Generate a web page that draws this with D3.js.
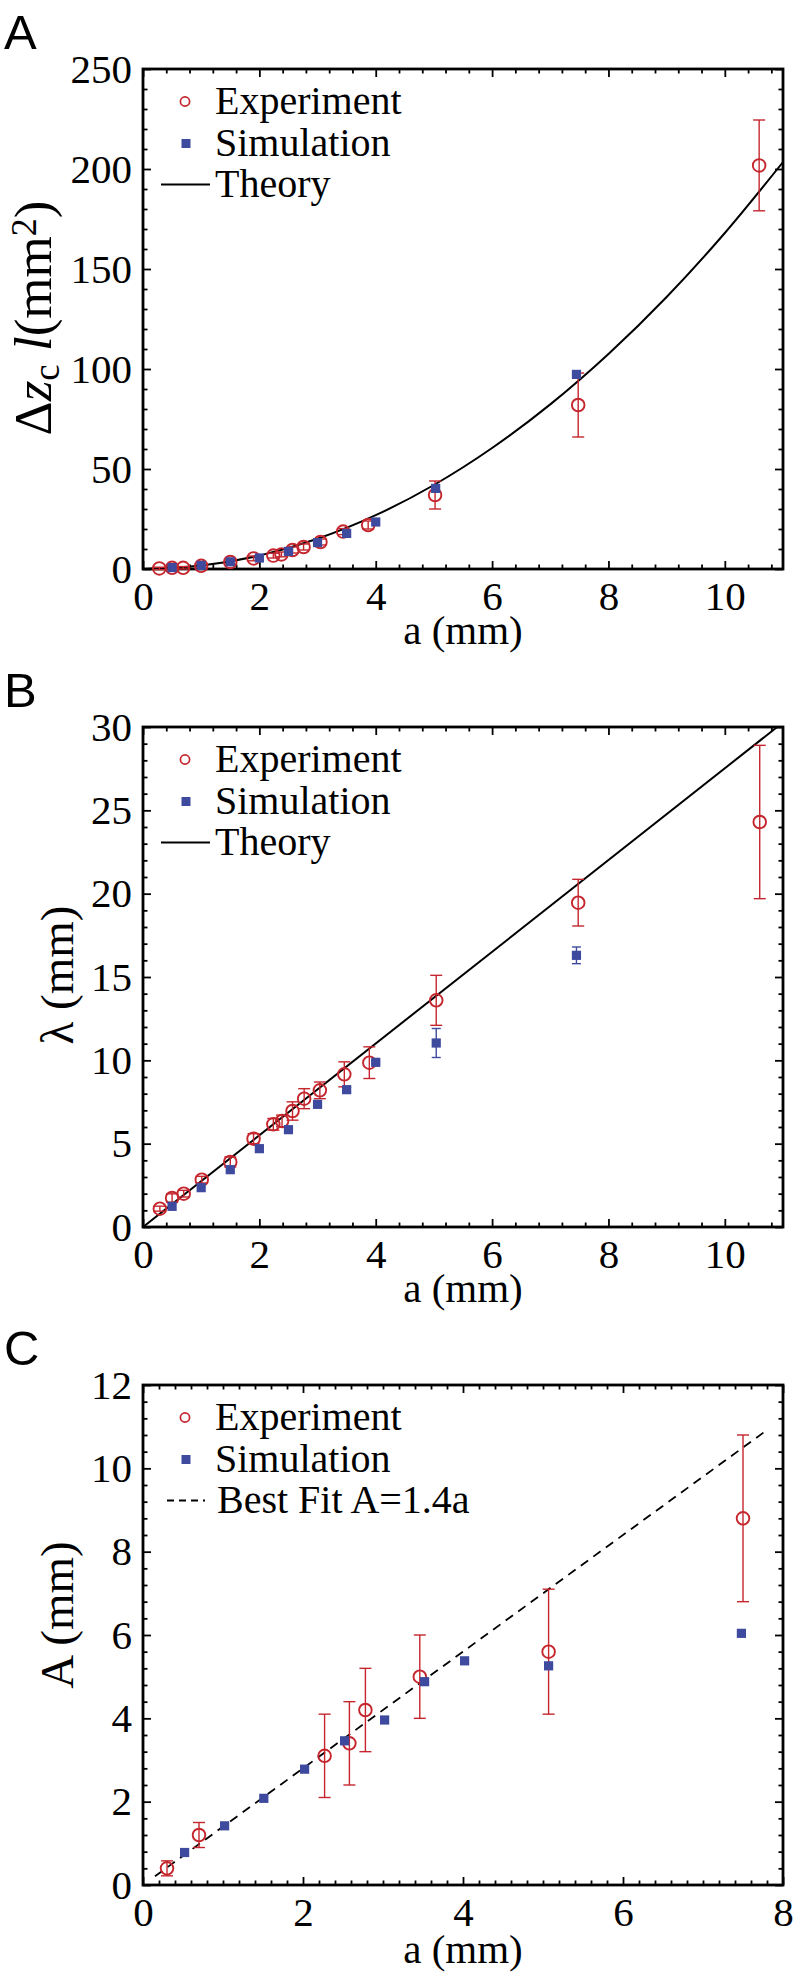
<!DOCTYPE html>
<html><head><meta charset="utf-8">
<script src="https://cdn.jsdelivr.net/npm/d3@7"></script>
<style>body{margin:0;background:#fff}svg{display:block}</style>
</head><body>
<script>
// ---------- Panel A : Δz_c l (mm^2) vs a (mm) ----------  [a, value, error]
const expA = [[0.28,0.3,0.6],[0.5,0.6,0.6],[0.69,0.6,0.6],[1.0,1.6,0.8],[1.5,3.5,1],[1.9,5.3,1.2],[2.24,6.7,1.2],[2.38,7.3,1.2],[2.57,9.5,1.5],[2.76,11.0,1.5],[3.05,13.5,1.5],[3.44,18.7,1.5],[3.87,22.0,2],[5.02,37.0,7],[7.48,82.0,16],[10.59,201.8,22.7]];
const simA = [[0.5,0.7,0],[1.0,1.8,0],[1.5,3.6,0],[2.0,5.5,0],[2.5,8.8,0],[3.0,13.2,0],[3.5,17.8,0],[4.0,23.5,0],[5.03,40.3,0],[7.45,97.3,0]];
const theoryA = [[0,0],[1,1.7],[2,6.7],[3,15.1],[4,26.9],[5,42],[6,60.5],[7,82.3],[8,107.5],[9,136],[10,168],[11,203.5]];
// ---------- Panel B : λ (mm) vs a (mm) ----------
const expB = [[0.29,1.1,0.15],[0.5,1.74,0.25],[0.7,2.0,0.2],[1.01,2.84,0.2],[1.5,3.9,0.3],[1.9,5.3,0.3],[2.24,6.16,0.35],[2.39,6.36,0.35],[2.57,6.96,0.55],[2.77,7.7,0.6],[3.04,8.2,0.5],[3.46,9.16,0.75],[3.89,9.86,0.95],[5.04,13.6,1.5],[7.48,19.46,1.4],[10.6,24.3,4.6]];
const simB = [[0.5,1.24,0],[1.0,2.36,0],[1.5,3.44,0],[2.0,4.7,0],[2.5,5.84,0],[3.0,7.36,0.1],[3.5,8.24,0.15],[4.0,9.88,0.1],[5.04,11.04,0.87],[7.45,16.3,0.5]];
const theoryB = [[0,0],[10.9,30]];
// ---------- Panel C : A (mm) vs a (mm) ----------
const expC = [[0.3,0.4,0.18],[0.7,1.2,0.3],[2.27,3.1,1.0],[2.58,3.4,1.0],[2.78,4.2,1.0],[3.46,5.0,1.0],[5.07,5.6,1.5],[7.5,8.8,2.0]];
const simC = [[0.52,0.78,0],[1.02,1.42,0],[1.51,2.08,0],[2.02,2.78,0],[2.52,3.46,0],[3.02,3.96,0],[3.52,4.88,0],[4.02,5.38,0],[5.07,5.26,0],[7.48,6.04,0]];
const fitC = [[0.15,0.21],[7.8,10.92]];
// ---------- tick labels ----------
const xTicksAB = [0,2,4,6,8,10];
const yTicksA = [0,50,100,150,200,250];
const yTicksB = [0,5,10,15,20,25,30];
const xTicksC = [0,2,4,6,8];
const yTicksC = [0,2,4,6,8,10,12];
const legendLabels = ["Experiment","Simulation"];
const lineLabelAB = "Theory";
const lineLabelC = "Best Fit A=1.4a";

const RED = "#c5262e", BLUE = "#3e4a9e";
const W = 798, H = 1976, LEFT = 143, RIGHT = 783;
const SERIF = "'Liberation Serif','Times New Roman',serif";
const SANS = "'Liberation Sans',Arial,sans-serif";

const svg = d3.select("body").append("svg").attr("width", W).attr("height", H)
  .style("background", "#fff");

const panels = [
  {id:"A", top:69, bottom:569, xd:[0,11], yd:[0,250], xt:xTicksAB, yt:yTicksA, xm:0.4, ym:10,
   exp:expA, sim:simA, line:theoryA, dashed:false, lineLabel:lineLabelAB, curve:d3.curveMonotoneX,
   xlabBase:644, ylabX:51, ylabY:318, ylabFs:53},
  {id:"B", top:727, bottom:1227, xd:[0,11], yd:[0,30], xt:xTicksAB, yt:yTicksB, xm:0.4, ym:1,
   exp:expB, sim:simB, line:theoryB, dashed:false, lineLabel:lineLabelAB, curve:d3.curveLinear,
   xlabBase:1302, ylabX:73, ylabY:975, ylabFs:47},
  {id:"C", top:1385, bottom:1885, xd:[0,8], yd:[0,12], xt:xTicksC, yt:yTicksC, xm:0.2, ym:0.4,
   exp:expC, sim:simC, line:fitC, dashed:true, lineLabel:lineLabelC, curve:d3.curveLinear,
   xlabBase:1963, ylabX:73, ylabY:1615, ylabFs:47}
];

function minorVals(dom, step, majors) {
  const out = [];
  const n = Math.round((dom[1]-dom[0])/step);
  for (let i=0;i<=n;i++){
    const v = +(dom[0]+i*step).toFixed(6);
    if (v<=dom[1]+1e-9 && !majors.some(m=>Math.abs(m-v)<1e-6)) out.push(v);
  }
  return out;
}

function styleAxis(g, fs) {
  g.select(".domain").remove();
  g.selectAll(".tick line").attr("stroke","#000").attr("stroke-width",1.8);
  g.selectAll(".tick text").attr("fill","#000").style("font-family",SERIF).style("font-size",fs+"px");
  g.attr("font-family",null).attr("font-size",null);
}

panels.forEach(p => {
  const x = d3.scaleLinear().domain(p.xd).range([LEFT, RIGHT]);
  const y = d3.scaleLinear().domain(p.yd).range([p.bottom, p.top]);
  const g = svg.append("g");

  const cid = "clip"+p.id;
  svg.append("clipPath").attr("id",cid).append("rect")
    .attr("x",LEFT).attr("y",p.top).attr("width",RIGHT-LEFT).attr("height",p.bottom-p.top);

  const xMin = minorVals(p.xd, p.xm, p.xt);
  const yMin = minorVals(p.yd, p.ym, p.yt);
  const MAJ = -8, MIN = -4.5, FS = 41;

  const gb = g.append("g").attr("transform",`translate(0,${p.bottom})`)
    .call(d3.axisBottom(x).tickValues(p.xt).tickSize(MAJ).tickPadding(12).tickFormat(d3.format("d")));
  styleAxis(gb, FS);
  styleAxis(g.append("g").attr("transform",`translate(0,${p.bottom})`)
    .call(d3.axisBottom(x).tickValues(xMin).tickSize(MIN).tickFormat("")), FS);
  styleAxis(g.append("g").attr("transform",`translate(0,${p.top})`)
    .call(d3.axisTop(x).tickValues(p.xt).tickSize(MAJ).tickFormat("")), FS);
  styleAxis(g.append("g").attr("transform",`translate(0,${p.top})`)
    .call(d3.axisTop(x).tickValues(xMin).tickSize(MIN).tickFormat("")), FS);
  const gl = g.append("g").attr("transform",`translate(${LEFT},0)`)
    .call(d3.axisLeft(y).tickValues(p.yt).tickSize(MAJ).tickPadding(11).tickFormat(d3.format("d")));
  styleAxis(gl, FS);
  styleAxis(g.append("g").attr("transform",`translate(${LEFT},0)`)
    .call(d3.axisLeft(y).tickValues(yMin).tickSize(MIN).tickFormat("")), FS);
  styleAxis(g.append("g").attr("transform",`translate(${RIGHT},0)`)
    .call(d3.axisRight(y).tickValues(p.yt).tickSize(MAJ).tickFormat("")), FS);
  styleAxis(g.append("g").attr("transform",`translate(${RIGHT},0)`)
    .call(d3.axisRight(y).tickValues(yMin).tickSize(MIN).tickFormat("")), FS);

  g.append("rect").attr("x",LEFT).attr("y",p.top).attr("width",RIGHT-LEFT).attr("height",p.bottom-p.top)
    .attr("fill","none").attr("stroke","#000").attr("stroke-width",2.8);

  g.append("path").datum(p.line).attr("clip-path",`url(#${cid})`)
    .attr("d", d3.line().x(d=>x(d[0])).y(d=>y(d[1])).curve(p.curve))
    .attr("fill","none").attr("stroke","#000").attr("stroke-width",p.dashed?1.8:2)
    .attr("stroke-dasharray", p.dashed ? "9,6.5" : null);

  function errBars(data, color, cap) {
    const eg = g.append("g").attr("stroke",color).attr("stroke-width",1.4).attr("fill","none");
    data.filter(d=>d[2]>0).forEach(d=>{
      const cx = x(d[0]), y1 = y(d[1]-d[2]), y2 = y(d[1]+d[2]);
      eg.append("line").attr("x1",cx).attr("x2",cx).attr("y1",y1).attr("y2",y2);
      eg.append("line").attr("x1",cx-cap).attr("x2",cx+cap).attr("y1",y1).attr("y2",y1);
      eg.append("line").attr("x1",cx-cap).attr("x2",cx+cap).attr("y1",y2).attr("y2",y2);
    });
  }
  errBars(p.exp, RED, 6);
  g.append("g").selectAll("circle").data(p.exp).join("circle")
    .attr("cx",d=>x(d[0])).attr("cy",d=>y(d[1])).attr("r",6.3)
    .attr("fill","none").attr("stroke",RED).attr("stroke-width",1.9);
  errBars(p.sim, BLUE, 4.5);
  g.append("g").selectAll("rect").data(p.sim).join("rect")
    .attr("x",d=>x(d[0])-4.6).attr("y",d=>y(d[1])-4.6).attr("width",9.2).attr("height",9.2)
    .attr("fill",BLUE);

  // legend
  const b1 = p.top+45, b2 = p.top+87, b3 = p.top+128, off = 12.5;
  const lg = g.append("g").style("font-family",SERIF).style("font-size","40px");
  lg.append("circle").attr("cx",185).attr("cy",b1-off).attr("r",4.6)
    .attr("fill","none").attr("stroke",RED).attr("stroke-width",1.7);
  lg.append("rect").attr("x",186-4.5).attr("y",b2-off-4.5).attr("width",9).attr("height",9).attr("fill",BLUE);
  lg.append("line").attr("x1",p.dashed?167:161).attr("x2",p.dashed?205:210)
    .attr("y1",b3-off).attr("y2",b3-off).attr("stroke","#000").attr("stroke-width",p.dashed?1.8:2)
    .attr("stroke-dasharray",p.dashed?"7,5":null);
  lg.append("text").attr("x",215).attr("y",b1).text(legendLabels[0]);
  lg.append("text").attr("x",215).attr("y",b2).text(legendLabels[1]);
  lg.append("text").attr("x",p.dashed?217:215).attr("y",b3).text(p.lineLabel);

  // x label
  g.append("text").attr("x",(LEFT+RIGHT)/2).attr("y",p.xlabBase).attr("text-anchor","middle")
    .style("font-family",SERIF).style("font-size","41px").text("a (mm)");

  // panel letter
  g.append("text").attr("x",4).attr("y",p.top-20).style("font-family",SANS)
    .style("font-size","49px").text(p.id);

  // y label
  const yl = g.append("text").attr("transform",`translate(${p.ylabX},${p.ylabY}) rotate(-90)`)
    .attr("text-anchor","middle").style("font-family",SERIF).style("font-size",p.ylabFs+"px");
  if (p.id==="A") {
    yl.append("tspan").text("Δ");
    yl.append("tspan").style("font-style","italic").text("z");
    yl.append("tspan").attr("baseline-shift","-22%").style("font-size","37px").text("c");
    yl.append("tspan").style("font-style","italic").text(" l");
    yl.append("tspan").text("(mm");
    yl.append("tspan").attr("baseline-shift","42%").style("font-size","36px").text("2");
    yl.append("tspan").text(")");
  } else if (p.id==="B") {
    yl.text("λ (mm)");
  } else {
    yl.text("A (mm)");
  }
});
</script>
</body></html>
